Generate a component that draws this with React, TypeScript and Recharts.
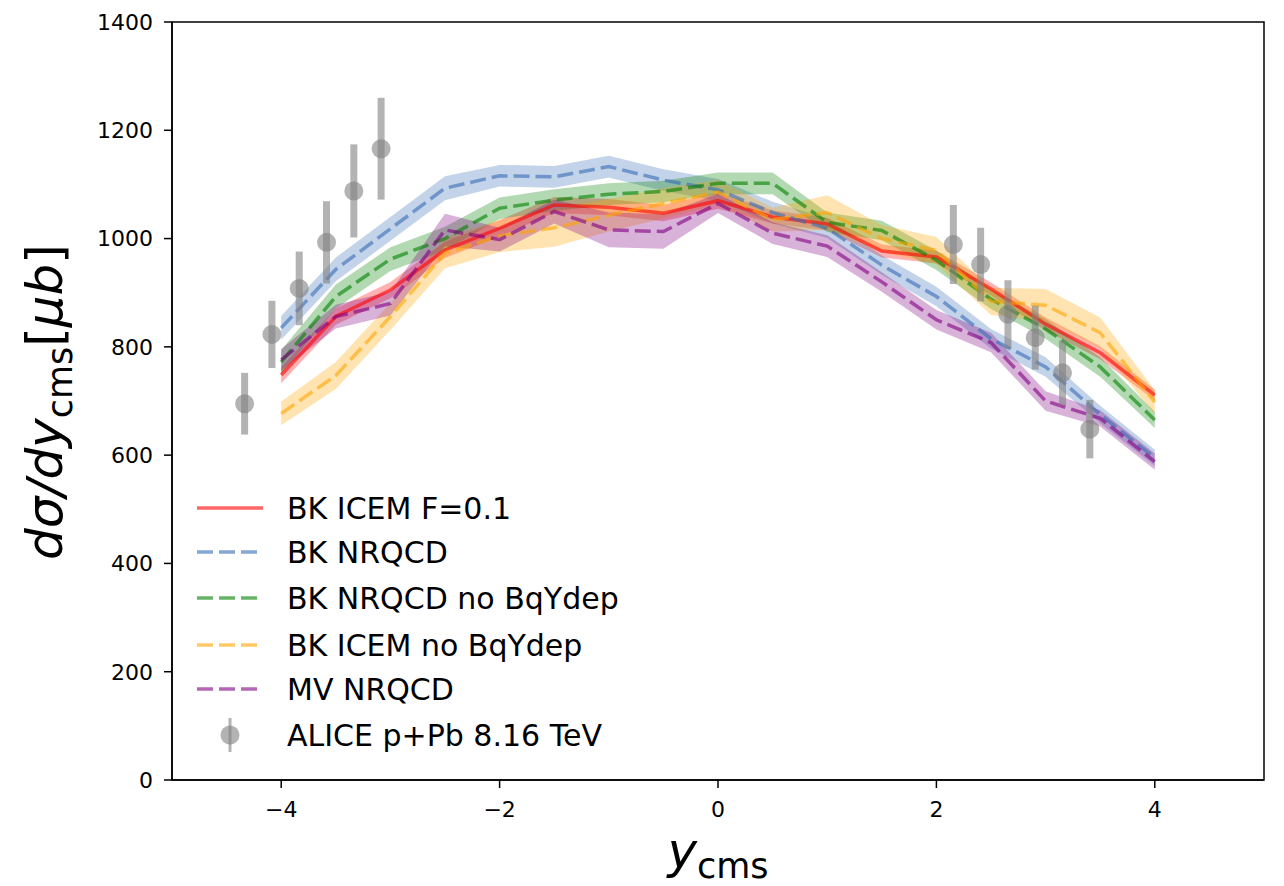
import React from "react";
import {
  ComposedChart,
  Line,
  Area,
  Scatter,
  ErrorBar,
  XAxis,
  YAxis,
  ReferenceArea,
} from "recharts";

// theory rapidity grid
const yGrid = [-4, -3.5, -3, -2.5, -2, -1.5, -1, -0.5, 0, 0.5, 1, 1.5, 2, 2.5, 3, 3.5, 4];

const icemF01 = [748, 856, 905, 979, 1019, 1062, 1058, 1047, 1070, 1040, 1027, 977, 966, 907, 842, 789, 711];
const icemF01Err = [15, 15, 15, 15, 15, 15, 15, 15, 15, 12, 12, 12, 12, 12, 12, 12, 10];

const nrqcd = [835, 943, 1018, 1093, 1116, 1114, 1133, 1108, 1090, 1048, 1019, 951, 893, 815, 763, 675, 595];
const nrqcdErr = [22, 22, 22, 22, 20, 20, 20, 20, 20, 20, 18, 18, 18, 18, 18, 16, 15];

const nrqcdNoBq = [772, 893, 962, 1000, 1056, 1071, 1082, 1087, 1102, 1102, 1030, 1015, 960, 888, 833, 763, 665];
const nrqcdNoBqErr = [22, 22, 22, 22, 20, 20, 20, 20, 20, 20, 18, 18, 18, 18, 18, 18, 15];

const icemNoBq = [677, 747, 856, 973, 1005, 1020, 1043, 1065, 1086, 1035, 1048, 1000, 978, 884, 877, 826, 698];
const icemNoBqErr = [22, 25, 25, 28, 30, 35, 30, 28, 22, 22, 32, 25, 25, 25, 30, 28, 22];

const mvNrqcd = [776, 856, 880, 1016, 998, 1050, 1016, 1013, 1065, 1010, 986, 920, 850, 808, 700, 668, 588];
const mvNrqcdErr = [20, 22, 22, 30, 22, 22, 32, 32, 18, 20, 20, 18, 18, 18, 18, 15, 15];

// ALICE p+Pb 8.16 TeV
const aliceY = [-4.335, -4.085, -3.835, -3.585, -3.335, -3.085, 2.155, 2.405, 2.655, 2.905, 3.155, 3.405];
const aliceVal = [695, 823, 908, 993, 1088, 1166, 989, 952, 860, 817, 752, 648];
const aliceErr = [57, 62, 68, 76, 86, 94, 73, 68, 63, 59, 60, 54];

const xTicks = [-4, -2, 0, 2, 4];
const yTicks = [0, 200, 400, 600, 800, 1000, 1200, 1400];

const series = [
  { key: "icemF01", name: "BK ICEM F=0.1", vals: icemF01, err: icemF01Err, color: "#ff0000", dash: undefined },
  { key: "nrqcd", name: "BK NRQCD", vals: nrqcd, err: nrqcdErr, color: "#376cb6", dash: "16 6" },
  { key: "nrqcdNoBq", name: "BK NRQCD no BqYdep", vals: nrqcdNoBq, err: nrqcdNoBqErr, color: "#008000", dash: "16 6" },
  { key: "icemNoBq", name: "BK ICEM no BqYdep", vals: icemNoBq, err: icemNoBqErr, color: "#ffa500", dash: "16 6" },
  { key: "mvNrqcd", name: "MV NRQCD", vals: mvNrqcd, err: mvNrqcdErr, color: "#800080", dash: "16 6" },
];

const theoryRows = yGrid.map((x, i) => {
  const row: Record<string, any> = { x };
  series.forEach((s) => {
    row[s.key] = s.vals[i];
    row[s.key + "Band"] = [s.vals[i] - s.err[i], s.vals[i] + s.err[i]];
  });
  return row;
});

const aliceRows = aliceY.map((x, i) => ({ x, v: aliceVal[i], err: aliceErr[i] }));

const FONT = "DejaVu Sans";

const fmtTick = (v: number) => (v < 0 ? "\u2212" + Math.abs(v) : String(v));

const AliceDot = (props: any) => {
  const { cx, cy } = props;
  if (cx == null || cy == null) return null;
  return <circle cx={cx} cy={cy} r={9.5} fill="#808080" fillOpacity={0.6} />;
};

const legendRows = [500, 544, 590, 637, 681, 727];

export default function App(): React.ReactElement {
  return (
    <div style={{ position: "relative", width: 1268, height: 878, fontFamily: FONT }}>
      <ComposedChart
        width={1268}
        height={870}
        data={theoryRows}
        margin={{ top: 14, right: 12, left: 0, bottom: 0 }}
      >
        <XAxis
          type="number"
          dataKey="x"
          domain={[-5, 5]}
          ticks={xTicks}
          allowDataOverflow
          tickFormatter={fmtTick}
          tick={{ fill: "#000", fontSize: 22, fontFamily: FONT }}
          tickSize={8}
          tickMargin={13}
          height={98}
          stroke="#000"
          strokeWidth={1.5}
        />
        <YAxis
          type="number"
          domain={[0, 1400]}
          ticks={yTicks}
          allowDataOverflow
          tick={{ fill: "#000", fontSize: 22, fontFamily: FONT }}
          tickSize={8}
          tickMargin={11}
          width={164}
          stroke="#000"
          strokeWidth={1.5}
        />
        {series.map((s) => [
          <Area
            key={s.key + "-band"}
            type="linear"
            dataKey={s.key + "Band"}
            stroke="none"
            fill={s.color}
            fillOpacity={0.3}
            isAnimationActive={false}
          />,
          <Line
            key={s.key + "-line"}
            type="linear"
            dataKey={s.key}
            stroke={s.color}
            strokeOpacity={0.6}
            strokeWidth={3.5}
            strokeDasharray={s.dash}
            dot={false}
            activeDot={false}
            isAnimationActive={false}
          />,
        ])}
        <Scatter data={aliceRows} dataKey="v" shape={<AliceDot />} isAnimationActive={false}>
          <ErrorBar
            dataKey="err"
            direction="y"
            width={0}
            stroke="#808080"
            strokeOpacity={0.6}
            strokeWidth={7}
          />
        </Scatter>
        <ReferenceArea x1={-5} x2={5} y1={0} y2={1400} fill="none" stroke="#000" strokeWidth={1.5} />
      </ComposedChart>

      <svg
        width={1268}
        height={878}
        style={{ position: "absolute", left: 0, top: 0, pointerEvents: "none" }}
        fontFamily={FONT}
      >
        {/* y axis label */}
        <text transform="translate(54, 394) rotate(-90)" textAnchor="middle" fontSize={50} fill="#000">
          <tspan fontStyle="italic">dσ/dy</tspan>
          <tspan fontSize={35} dy={10}>cms</tspan>
          <tspan dy={-10}>[</tspan>
          <tspan fontStyle="italic">μb</tspan>
          <tspan>]</tspan>
        </text>
        {/* x axis label */}
        <text x={710} y={860} textAnchor="middle" fontSize={50} fill="#000">
          <tspan fontStyle="italic">y</tspan>
          <tspan fontSize={35} dy={10}>cms</tspan>
        </text>
        {/* legend */}
        {series.map((s, i) => (
          <g key={s.key}>
            <line
              x1={189}
              x2={255}
              y1={legendRows[i]}
              y2={legendRows[i]}
              stroke={s.color}
              strokeOpacity={0.6}
              strokeWidth={3.5}
              strokeDasharray={s.dash}
            />
            <text x={279} y={legendRows[i] + 11} fontSize={30} fill="#000">
              {s.name}
            </text>
          </g>
        ))}
        <line x1={222} x2={222} y1={legendRows[5] - 17} y2={legendRows[5] + 17} stroke="#808080" strokeOpacity={0.6} strokeWidth={3} />
        <circle cx={222} cy={legendRows[5]} r={9.5} fill="#808080" fillOpacity={0.6} />
        <text x={279} y={legendRows[5] + 11} fontSize={30} fill="#000">
          ALICE p+Pb 8.16 TeV
        </text>
      </svg>
    </div>
  );
}
